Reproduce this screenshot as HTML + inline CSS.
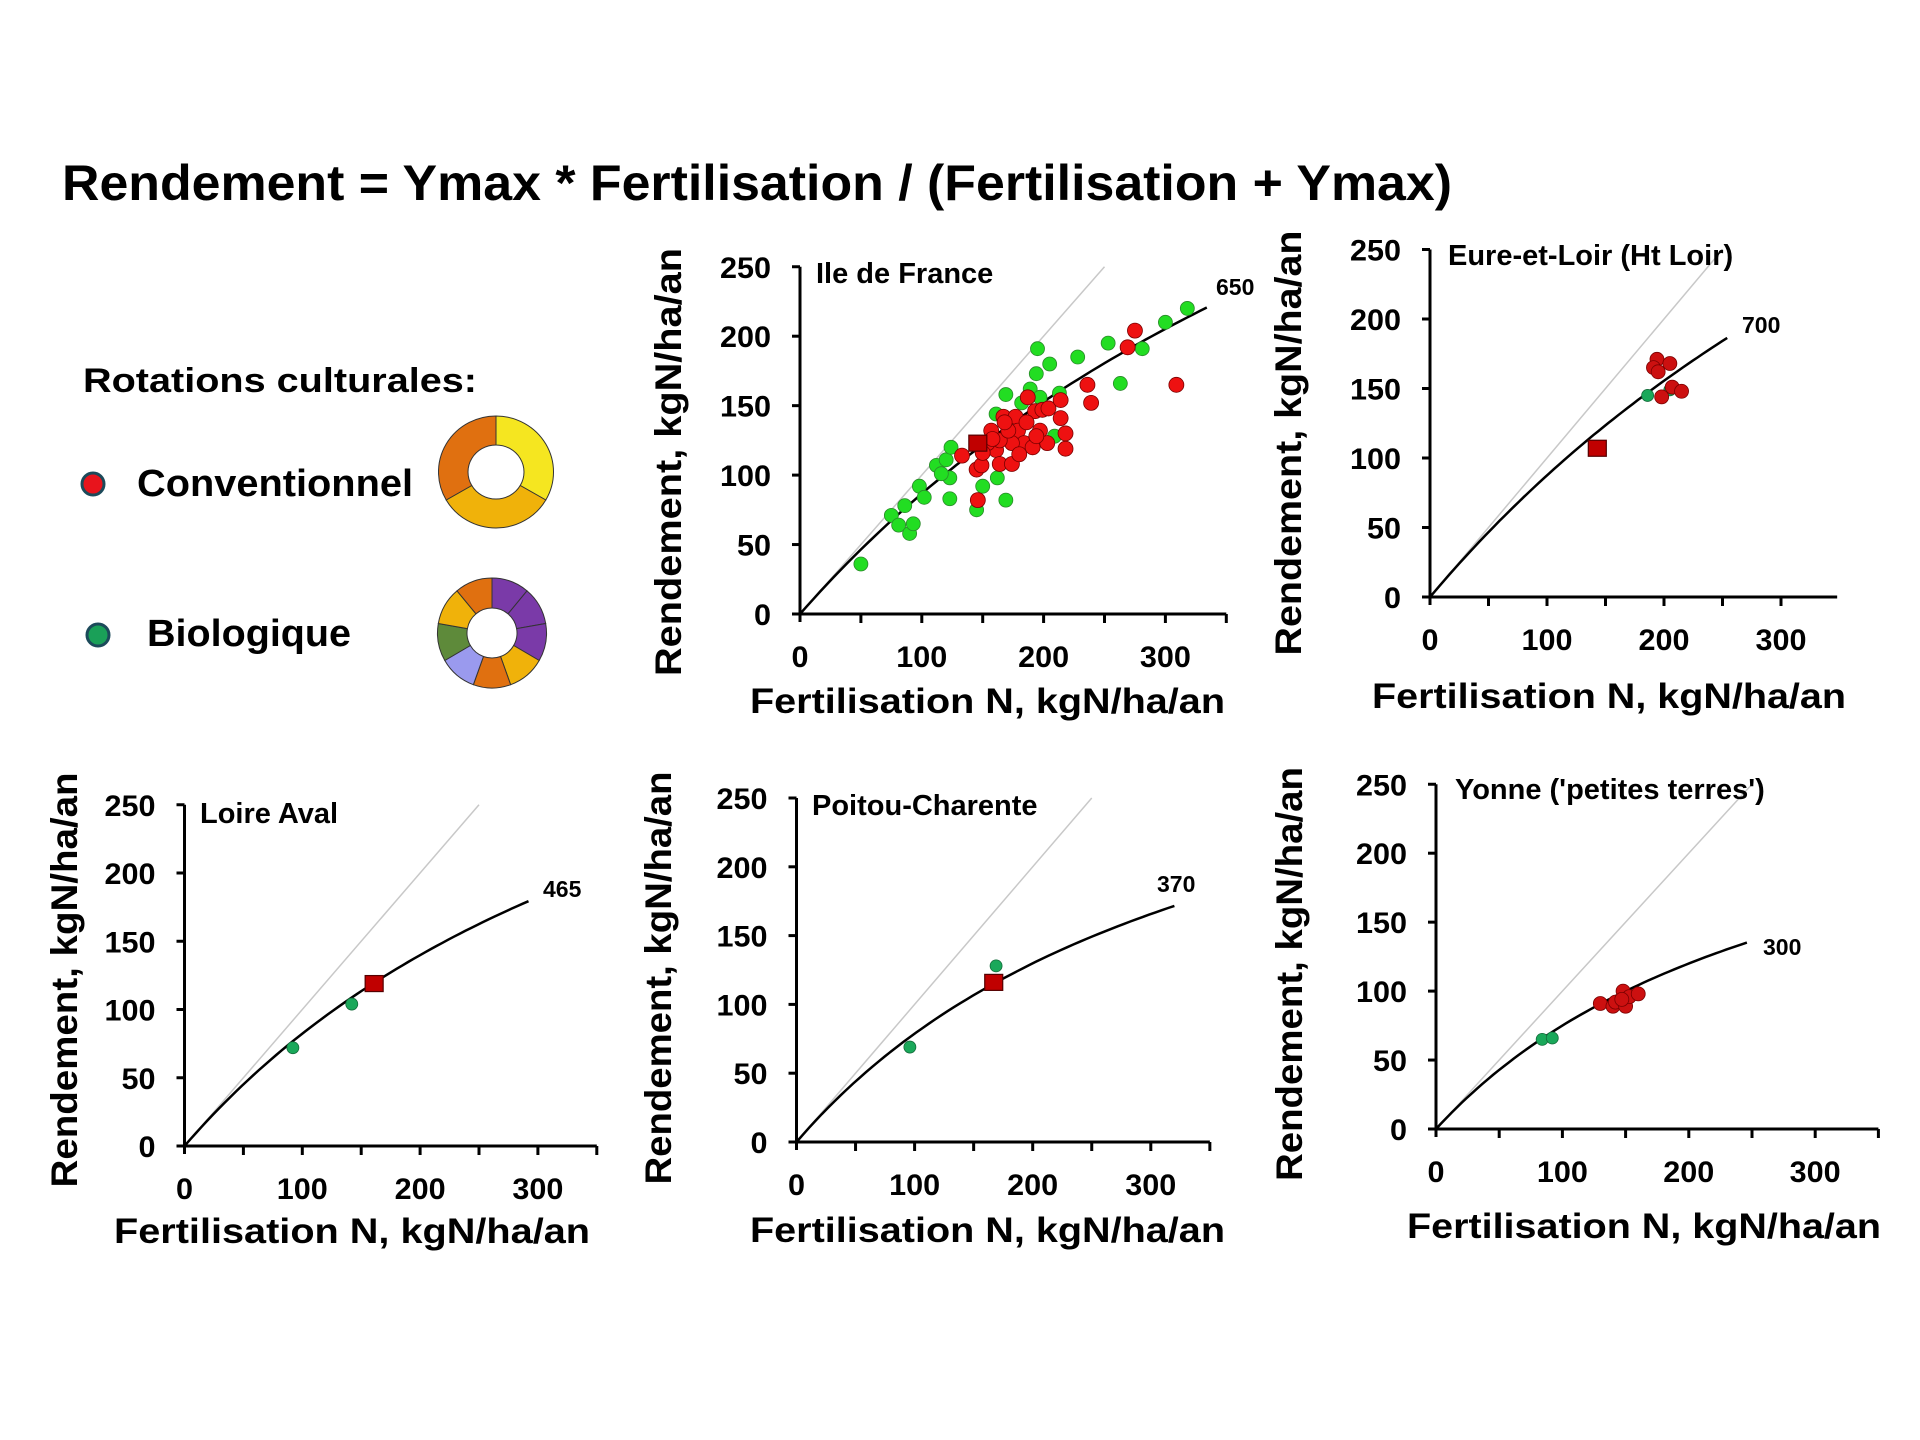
<!DOCTYPE html>
<html><head><meta charset="utf-8"><style>
html,body{margin:0;padding:0;background:#fff;}
svg{display:block;font-family:"Liberation Sans",Arial,sans-serif;}
</style></head><body>
<svg id="chart" width="1920" height="1440" viewBox="0 0 1920 1440" xmlns="http://www.w3.org/2000/svg">
<rect width="1920" height="1440" fill="#fff"/>
<text x="62" y="200" font-size="50" font-weight="bold" textLength="1390" lengthAdjust="spacingAndGlyphs">Rendement = Ymax * Fertilisation  / (Fertilisation + Ymax)</text>
<g>
<text x="83" y="392" font-size="34" font-weight="bold" textLength="394" lengthAdjust="spacingAndGlyphs">Rotations culturales:</text>
<circle cx="93" cy="484" r="11" fill="#e8141c" stroke="#1c4a5a" stroke-width="3"/>
<text x="137" y="496" font-size="38" font-weight="bold" textLength="276" lengthAdjust="spacingAndGlyphs">Conventionnel</text>
<circle cx="98" cy="635" r="11" fill="#1aa058" stroke="#1c4a5a" stroke-width="3"/>
<text x="147" y="646" font-size="38" font-weight="bold" textLength="204" lengthAdjust="spacingAndGlyphs">Biologique</text>
<g id="donuts"></g>
</g>
<g id="panels"></g>
</svg>
<script>
// ---- data ----
const ymaxValues = [650, 700, 465, 370, 300];
const panelTitles = ["Ile de France", "Eure-et-Loir (Ht Loir)", "Loire Aval", "Poitou-Charente", "Yonne ('petites terres')"];
const curveEndX = [334, 254, 292, 320, 246];
const xTicks = [0, 100, 200, 300];
const yTicks = [0, 50, 100, 150, 200, 250];

const idfBioX = [50,75,81,90,93,86,98,102,112,120,124,123,123,116,145,150,162,169,161,169,189,194,195,205,197,213,209,228,253,263,281,300,318,182];
const idfBioY = [36,71,64,58,65,78,92,84,107,111,120,98,83,101,75,92,98,82,144,158,162,173,191,180,156,159,128,185,195,166,191,210,220,152];
const idfConvX = [133,145,149,146,157,161,167,164,174,177,179,184,174,187,193,199,197,203,204,214,214,218,218,236,239,269,275,309,154,164,171,191,194,150,158,168,180,186];
const idfConvY = [114,104,107,82,132,118,142,108,108,142,132,123,123,156,146,147,132,123,148,154,141,130,119,165,152,192,204,165,123,125,132,120,128,116,126,138,115,138];
const idfMeanX = [146]; const idfMeanY = [123];

const eureBioX = [186,205]; const eureBioY = [145,149];
const eureConvX = [194,205,191,195,207,215,198]; const eureConvY = [171,168,165,162,151,148,144];
const eureMeanX = [143]; const eureMeanY = [107];

const loireBioX = [92,142]; const loireBioY = [72,104];
const loireConvX = []; const loireConvY = [];
const loireMeanX = [161]; const loireMeanY = [119];

const poitouBioX = [96,169]; const poitouBioY = [69,128];
const poitouConvX = []; const poitouConvY = [];
const poitouMeanX = [167]; const poitouMeanY = [116];

const yonneBioX = [84,92]; const yonneBioY = [65,66];
const yonneConvX = [130,140,142,148,150,153,160,147]; const yonneConvY = [91,89,92,100,89,96,98,94];
const yonneMeanX = []; const yonneMeanY = [];

// ---- layout (not data) ----
const layouts = [
 {ox:800,oy:614,sx:1.218,sy:1.389,xEndU:350,tx:816,ty:283,lx:1216,ly:295,xtx:750,xty:713,xtl:475,ytb:681,ytc:462,ytl:428},
 {ox:1430,oy:597,sx:1.170,sy:1.39,xEndU:348,tx:1448,ty:265,lx:1742,ly:333,xtx:1372,xty:708,xtl:474,ytb:1301,ytc:443,ytl:425},
 {ox:184.5,oy:1146,sx:1.178,sy:1.365,xEndU:350,tx:200,ty:823,lx:543,ly:897,xtx:114,xty:1243,xtl:476,ytb:77,ytc:980,ytl:415},
 {ox:796.5,oy:1142,sx:1.181,sy:1.376,xEndU:350,tx:812,ty:815,lx:1157,ly:892,xtx:750,xty:1242,xtl:475,ytb:671,ytc:978,ytl:413},
 {ox:1436,oy:1129,sx:1.264,sy:1.379,xEndU:350,tx:1455,ty:799,lx:1763,ly:955,xtx:1407,xty:1238,xtl:474,ytb:1302,ytc:974,ytl:414}
];
const bioSets = [[idfBioX,idfBioY],[eureBioX,eureBioY],[loireBioX,loireBioY],[poitouBioX,poitouBioY],[yonneBioX,yonneBioY]];
const convSets = [[idfConvX,idfConvY],[eureConvX,eureConvY],[loireConvX,loireConvY],[poitouConvX,poitouConvY],[yonneConvX,yonneConvY]];
const meanSets = [[idfMeanX,idfMeanY],[eureMeanX,eureMeanY],[loireMeanX,loireMeanY],[poitouMeanX,poitouMeanY],[yonneMeanX,yonneMeanY]];

const NS = "http://www.w3.org/2000/svg";
function mk(tag, attrs, parent){const e=document.createElementNS(NS,tag);for(const k in attrs)e.setAttribute(k,attrs[k]);parent.appendChild(e);return e;}
const panelsG = document.getElementById('panels');
const slugs = ["ile-de-france","eure-et-loir","loire-aval","poitou-charente","yonne"];
const digitW = 17;

layouts.forEach((L, p) => {
  const g = mk('g', {}, panelsG);
  
  
  const X = v => L.ox + v * L.sx;
  const Y = v => L.oy - v * L.sy;
  const diag = mk('line', {x1:X(0),y1:Y(0),x2:X(250),y2:Y(250),stroke:'#c8c8c8','stroke-width':1.5}, g);
  
  
  const xa = mk('line', {x1:X(0)-8,y1:Y(0),x2:X(L.xEndU),y2:Y(0),stroke:'#000','stroke-width':3}, g);
  
  
  const ya = mk('line', {x1:X(0),y1:Y(0)+8,x2:X(0),y2:Y(250),stroke:'#000','stroke-width':3}, g);
  
  
  for (let v = 50; v <= L.xEndU; v += 50) mk('line', {x1:X(v),y1:Y(0),x2:X(v),y2:Y(0)+9,stroke:'#000','stroke-width':3}, g);
  yTicks.forEach(v => {
    mk('line', {x1:X(0)-8,y1:Y(v),x2:X(0),y2:Y(v),stroke:'#000','stroke-width':3}, g);
    const t = mk('text', {x:X(0)-29,y:Y(v)+11,'font-size':30,'font-weight':'bold','text-anchor':'end',textLength:String(v).length*digitW,lengthAdjust:'spacingAndGlyphs'}, g);
    
    
    t.textContent = v;
  });
  xTicks.forEach(v => {
    const t = mk('text', {x:X(v),y:Y(0)+53,'font-size':30,'font-weight':'bold','text-anchor':'middle',textLength:String(v).length*digitW,lengthAdjust:'spacingAndGlyphs'}, g);
    
    
    t.textContent = v;
  });
  const xt = mk('text', {x:L.xtx,y:L.xty,'font-size':35,'font-weight':'bold',textLength:L.xtl,lengthAdjust:'spacingAndGlyphs'}, g);
  
  
  xt.textContent = 'Fertilisation N, kgN/ha/an';
  const yt = mk('text', {x:0,y:0,'font-size':37,'font-weight':'bold','text-anchor':'middle',textLength:L.ytl,lengthAdjust:'spacingAndGlyphs',transform:`translate(${L.ytb},${L.ytc}) rotate(-90)`}, g);
  
  
  yt.textContent = 'Rendement, kgN/ha/an';
  const pt = mk('text', {x:L.tx,y:L.ty,'font-size':29,'font-weight':'bold'}, g);
  
  
  pt.textContent = panelTitles[p];
  const ym = ymaxValues[p];
  let d = '';
  for (let i = 0; i <= 60; i++) {
    const x = curveEndX[p] * i / 60;
    const y = ym * x / (x + ym);
    d += (i ? 'L' : 'M') + X(x).toFixed(1) + ',' + Y(y).toFixed(1);
  }
  const c = mk('path', {d:d,fill:'none',stroke:'#000','stroke-width':2.5}, g);
  
  
  const lb = mk('text', {x:L.lx,y:L.ly,'font-size':23,'font-weight':'bold'}, g);
  
  
  lb.textContent = ym;
  const [bx, by] = bioSets[p];
  const [cx, cy] = convSets[p];
  const [mx, my] = meanSets[p];
  const big = p === 0;
  bx.forEach((v, i) => {
    const e = mk('circle', {cx:X(v),cy:Y(by[i]),r:big?7:6,fill:big?'#22dd22':'#1aa85a',stroke:big?'#2a8a2a':'#136b3a','stroke-width':0.8}, g);
    
    
  });
  cx.forEach((v, i) => {
    const e = mk('circle', {cx:X(v),cy:Y(cy[i]),r:big?7.5:7,fill:big?'#ee1111':'#cc1010',stroke:'#7a0000','stroke-width':0.8}, g);
    
    
  });
  mx.forEach((v, i) => {
    const e = mk('rect', {x:X(v)-9,y:Y(my[i])-8,width:18,height:16,fill:'#c00000',stroke:'#550000','stroke-width':1.2}, g);
    
    
  });
});

const donutG = document.getElementById('donuts');
function donut(cx, cy, rx, ry, irx, iry, segs, name) {
  const g = mk('g', {}, donutG);
  
  
  let a = -Math.PI / 2;
  const total = segs.reduce((s, q) => s + q[0], 0);
  segs.forEach(q => {
    const a2 = a + q[0] / total * 2 * Math.PI;
    const p = (r1, r2, t) => [cx + r1 * Math.cos(t), cy + r2 * Math.sin(t)];
    const [x1,y1]=p(rx,ry,a),[x2,y2]=p(rx,ry,a2),[x3,y3]=p(irx,iry,a2),[x4,y4]=p(irx,iry,a);
    const lg = (a2 - a) > Math.PI ? 1 : 0;
    const s = mk('path', {d:`M${x1},${y1}A${rx},${ry} 0 ${lg} 1 ${x2},${y2}L${x3},${y3}A${irx},${iry} 0 ${lg} 0 ${x4},${y4}Z`,fill:q[1],stroke:'#333','stroke-width':1}, g);
    
    
    a = a2;
  });
}
donut(496, 472, 57.5, 56, 28, 27, [[1,'#f5e620'],[1,'#f0b20a'],[1,'#e07010']], 'conventional-rotation-donut');
donut(492, 633, 54.5, 55, 25, 25, [[1,'#7a3aa8'],[1,'#7a3aa8'],[1,'#7a3aa8'],[1,'#f0b20a'],[1,'#e07010'],[1,'#9a9aee'],[1,'#5e8a3a'],[1,'#f0b20a'],[1,'#e07010']], 'organic-rotation-donut');
</script>
</body></html>
